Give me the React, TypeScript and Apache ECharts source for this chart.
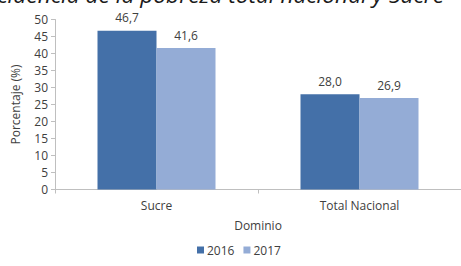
import React, { useEffect, useRef } from "react";
import * as echarts from "echarts";

const categories = ["Sucre", "Total Nacional"];
const seriesNames = ["2016", "2017"];
const values2016 = [46.7, 28.0];
const values2017 = [41.6, 26.9];
const yTicks = { min: 0, max: 50, interval: 5 };
const titleText = "Incidencia de la pobreza total nacional y Sucre";
const xName = "Dominio";
const yName = "Porcentaje (%)";

const FONT = "'Open Sans', 'Noto Sans', sans-serif";
const TXT = "#404040";

export default function App() {
  const ref = useRef<HTMLDivElement>(null);
  useEffect(() => {
    if (!ref.current) return;
    const chart = echarts.init(ref.current, undefined, { renderer: "svg" });
    const fmt = (p: any) => Number(p.value).toFixed(1).replace(".", ",");
    chart.setOption({
      animation: false,
      backgroundColor: "#ffffff",
      textStyle: { fontFamily: FONT, color: TXT },
      graphic: [
        {
          type: "text",
          right: 17,
          top: -17,
          style: {
            text: titleText,
            font: `italic 22.7px ${FONT}`,
            fill: "#1a1a1a",
          },
        },
      ],
      legend: {
        data: seriesNames,
        left: 197,
        top: 244,
        padding: 0,
        itemWidth: 7,
        itemHeight: 7,
        itemGap: 9,
        icon: "rect",
        textStyle: { fontSize: 12, color: TXT, fontFamily: FONT, padding: [0, 0, 0, -2] },
      },
      grid: { left: 55, top: 19.5, width: 416, bottom: 76.5, containLabel: false },
      xAxis: {
        type: "category",
        data: categories,
        name: xName,
        nameLocation: "middle",
        nameGap: 30,
        nameTextStyle: { fontSize: 12, color: TXT, fontFamily: FONT },
        axisLine: { lineStyle: { color: "#bfbfbf" } },
        axisTick: { show: true, length: 4, lineStyle: { color: "#bfbfbf" } },
        axisLabel: { fontSize: 12, color: TXT, margin: 10, fontFamily: FONT },
      },
      yAxis: {
        type: "value",
        min: yTicks.min,
        max: yTicks.max,
        interval: yTicks.interval,
        name: yName,
        nameLocation: "middle",
        nameGap: 34,
        nameTextStyle: { fontSize: 12, color: TXT, fontFamily: FONT },
        splitLine: { show: false },
        axisLine: { show: true, lineStyle: { color: "#bfbfbf" } },
        axisTick: { show: true, length: 4, lineStyle: { color: "#bfbfbf" } },
        axisLabel: { fontSize: 12, color: TXT, margin: 7, fontFamily: FONT },
      },
      series: [
        {
          name: seriesNames[0],
          type: "bar",
          data: values2016,
          barWidth: 59,
          barGap: "0%",
          itemStyle: { color: "#4470a8" },
          label: { show: true, position: "top", distance: 7, formatter: fmt, fontSize: 12, color: TXT, fontFamily: FONT },
        },
        {
          name: seriesNames[1],
          type: "bar",
          data: values2017,
          barWidth: 59,
          barGap: "0%",
          itemStyle: { color: "#94acd6" },
          label: { show: true, position: "top", distance: 7, formatter: fmt, fontSize: 12, color: TXT, fontFamily: FONT },
        },
      ],
    });
    return () => chart.dispose();
  }, []);
  return <div ref={ref} style={{ width: 461, height: 266, position: "absolute", left: 0, top: 0 }} />;
}
